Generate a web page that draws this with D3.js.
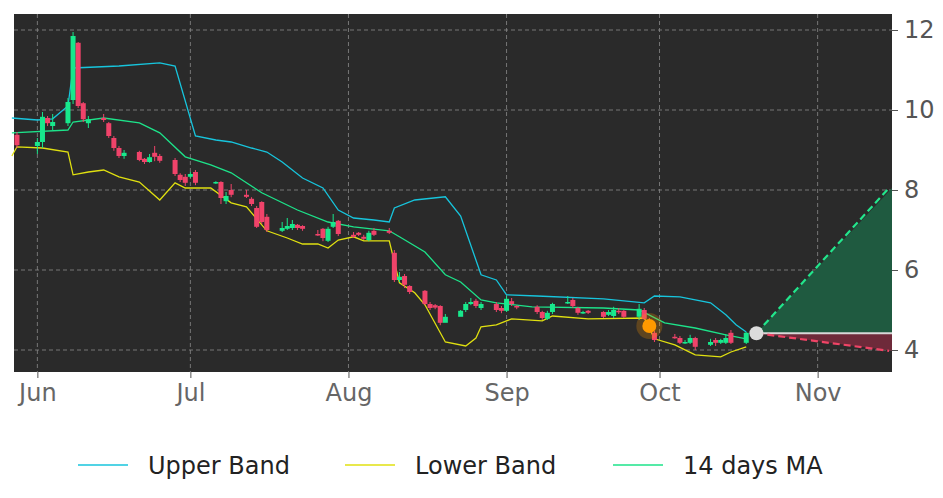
<!DOCTYPE html>
<html><head><meta charset="utf-8">
<script src="https://cdn.jsdelivr.net/npm/d3@7"></script>
<style>body{margin:0;background:#fff;font-family:"DejaVu Sans",sans-serif;}</style>
</head><body><svg id="c" width="943" height="498"></svg>
<script>
// candles: date, open, close, high, low
var days = ["05-28","06-01","06-02","06-03","06-04","06-07","06-08","06-09","06-10","06-11","06-14","06-15","06-16","06-17","06-18","06-21","06-22","06-23","06-24","06-25","06-28","06-29","06-30","07-01","07-02","07-06","07-07","07-08","07-09","07-12","07-13","07-14","07-15","07-16","07-19","07-20","07-21","07-22","07-23","07-26","07-27","07-28","07-29","07-30","08-02","08-03","08-04","08-05","08-06","08-09","08-10","08-11","08-12","08-13","08-16","08-17","08-18","08-19","08-20","08-23","08-24","08-25","08-26","08-27","08-30","08-31","09-01","09-02","09-03","09-07","09-08","09-09","09-10","09-13","09-14","09-15","09-16","09-17","09-20","09-21","09-22","09-23","09-24","09-27","09-28","09-29","09-30","10-04","10-05","10-06","10-07","10-08","10-11","10-12","10-13","10-14","10-15","10-18"];
var opens  = [9.38,9.1,9.2,9.8,9.6,9.67,10.25,11.68,10.17,9.67,9.8,9.67,9.3,9.05,8.85,8.95,8.78,8.7,8.93,8.85,8.75,8.38,8.33,8.33,8.45,8.18,8.2,7.72,8.0,7.88,7.78,7.55,7.7,7.33,6.98,7.03,7.05,7.13,7.1,6.9,7.03,6.73,7.08,7.23,6.88,6.93,6.83,6.75,6.98,6.98,6.43,5.75,5.85,5.6,5.48,5.15,5.12,5.1,4.68,4.83,5.0,5.15,5.23,5.05,5.15,5.05,4.98,5.22,5.1,5.08,4.95,4.78,4.95,5.18,5.25,5.05,4.93,4.98,4.95,4.88,4.85,4.98,4.98,4.83,5.0,4.75,4.43,4.33,4.3,4.18,4.18,4.3,4.13,4.25,4.18,4.18,4.43,4.18];
var closes = [9.12,9.2,9.83,9.67,9.7,10.2,11.85,10.1,9.77,9.77,9.75,9.35,9.05,8.85,8.93,8.75,8.7,8.82,8.83,8.73,8.4,8.25,8.18,8.4,8.18,8.2,7.8,7.85,7.88,7.83,7.65,7.08,7.2,7.0,7.05,7.1,7.15,7.05,7.03,6.88,6.8,7.03,7.2,6.9,6.83,6.88,6.78,6.93,6.88,6.93,5.75,5.83,5.63,5.45,5.15,5.05,5.06,4.68,4.83,4.98,5.15,5.2,5.1,5.15,5.0,4.98,5.28,5.15,5.07,4.95,4.8,4.93,5.15,5.2,5.1,4.93,4.95,4.93,4.83,4.95,5.0,4.95,4.83,5.03,4.78,4.6,4.25,4.3,4.18,4.2,4.3,4.08,4.2,4.18,4.25,4.3,4.18,4.43];
var highs  = [9.45,9.3,9.95,9.85,9.9,10.3,11.95,11.7,10.2,9.85,9.9,9.7,9.35,9.1,9.0,8.98,8.8,8.9,9.1,8.9,8.8,8.42,8.4,8.45,8.5,8.22,8.22,7.95,8.15,8.0,7.82,7.6,7.72,7.4,7.2,7.3,7.25,7.15,7.12,7.0,7.05,7.08,7.4,7.25,6.95,6.95,6.88,6.98,7.05,7.05,6.5,5.95,5.9,5.62,5.5,5.2,5.15,5.12,4.9,5.0,5.2,5.3,5.28,5.2,5.2,5.1,5.35,5.3,5.12,5.12,4.98,4.98,5.18,5.35,5.3,5.08,4.98,5.0,4.97,5.0,5.08,5.05,5.0,5.15,5.05,4.8,4.48,4.4,4.35,4.25,4.38,4.33,4.28,4.3,4.28,4.4,4.5,4.45];
var lows   = [9.05,8.9,9.05,9.6,9.5,9.6,10.15,10.05,9.7,9.55,9.7,9.3,8.98,8.8,8.78,8.72,8.65,8.68,8.72,8.68,8.35,8.2,8.1,8.3,8.12,8.15,7.65,7.65,7.82,7.8,7.6,7.05,7.15,6.95,6.95,7.0,7.0,7.0,6.98,6.85,6.72,6.7,7.05,6.85,6.8,6.85,6.75,6.72,6.85,6.9,5.7,5.7,5.55,5.4,5.12,5.0,5.02,4.62,4.7,4.9,4.95,5.12,5.05,5.0,4.95,4.92,4.95,5.1,5.02,4.9,4.75,4.75,4.9,5.15,5.05,4.88,4.9,4.9,4.8,4.85,4.8,4.9,4.8,4.75,4.75,4.55,4.2,4.28,4.15,4.15,4.15,4.0,4.1,4.1,4.15,4.15,4.15,4.15];

var upperDates = ["05-27","06-01","06-04","06-07","06-08","06-17","06-25","06-28","07-02","07-06","07-09","07-13","07-16","07-19","07-23","07-27","07-30","08-02","08-06","08-09","08-10","08-14","08-20","08-23","08-27","08-30","09-01","09-07","09-20","09-28","09-30","10-05","10-11","10-14","10-16","10-18"];
var upperVals  = [9.8,9.75,9.78,10.1,11.05,11.1,11.18,11.1,9.35,9.25,9.2,9.05,8.95,8.7,8.3,8.05,7.5,7.3,7.25,7.2,7.55,7.75,7.83,7.35,5.88,5.75,5.38,5.35,5.28,5.18,5.35,5.33,5.18,4.88,4.63,4.45];
var maDates = ["05-27","06-07","06-08","06-14","06-21","06-25","06-30","07-05","07-09","07-15","07-22","07-28","08-02","08-09","08-11","08-16","08-20","08-23","08-27","08-30","09-06","09-20","09-27","10-02","10-08","10-14","10-18"];
var maVals  = [9.43,9.5,9.7,9.8,9.68,9.43,8.83,8.63,8.43,7.93,7.5,7.2,7.08,6.98,6.83,6.45,5.88,5.7,5.25,5.18,5.08,5.05,5.0,4.68,4.55,4.38,4.28];
var lowerDates = ["05-27","05-28","06-02","06-07","06-08","06-11","06-14","06-17","06-21","06-25","06-28","06-30","07-05","07-09","07-12","07-16","07-20","07-23","07-26","07-28","07-30","08-02","08-04","08-09","08-11","08-14","08-16","08-20","08-24","08-26","08-27","08-30","09-02","09-08","09-10","09-17","09-28","09-30","10-04","10-08","10-13","10-15","10-18"];
var lowerVals  = [8.85,9.08,9.05,8.95,8.38,8.45,8.5,8.33,8.2,7.75,8.18,8.05,8.05,7.68,7.58,6.98,6.8,6.65,6.65,6.55,6.75,6.83,6.73,6.73,5.68,5.43,5.13,4.2,4.1,4.3,4.58,4.63,4.78,4.73,4.85,4.78,4.8,4.28,4.13,3.88,3.83,3.95,4.08];

var projStart = "10-20", projEnd = "11-15";
var projMid = 4.42, projHigh = 8.05, projLow = 3.98;
var signalDay = "09-29", signalVal = 4.6;
var yTicks = [4, 6, 8, 10, 12];
var monthTicks = ["06-01","07-01","08-01","09-01","10-01","11-01"];
var monthLabels = ["Jun","Jul","Aug","Sep","Oct","Nov"];

var pd = function(s){ return new Date("2021-" + s + "T00:00:00"); };
var svg = d3.select("#c");
var L = 14, R = 892, T = 14, B = 372;

var x = d3.scaleTime().domain([new Date("2021-05-27T10:00:00"), new Date("2021-11-15T14:00:00")]).range([L, R]);
var y = d3.scaleLinear().domain([3.45, 12.4]).range([B, T]);

svg.append("rect").attr("x", L).attr("y", T).attr("width", R - L).attr("height", B - T).attr("fill", "#2a2a2a");
var g = svg.append("g");

// grid
g.selectAll(".gx").data(monthTicks).enter().append("line")
  .attr("x1", function(d){ return x(pd(d)); }).attr("x2", function(d){ return x(pd(d)); })
  .attr("y1", T).attr("y2", B).attr("stroke", "#8a8a8a").attr("stroke-dasharray", "4,3").attr("stroke-width", 0.8);
g.selectAll(".gy").data(yTicks).enter().append("line")
  .attr("x1", L).attr("x2", R).attr("y1", y).attr("y2", y)
  .attr("stroke", "#8a8a8a").attr("stroke-dasharray", "4,3").attr("stroke-width", 0.8);

// projection
var x0 = x(pd(projStart)), x1 = R;
g.append("path").attr("d", d3.line()([[x0, y(projMid)], [x1, y(projHigh)], [x1, y(projMid)]])).attr("fill", "#1f5a40");
g.append("path").attr("d", d3.line()([[x0, y(projMid)], [x1, y(projLow)], [x1, y(projMid)]])).attr("fill", "#6e2a3a");
g.append("line").attr("x1", x0).attr("x2", x1).attr("y1", y(projMid)).attr("y2", y(projMid)).attr("stroke", "#d8d8d8").attr("stroke-width", 2);
g.append("line").attr("x1", x0).attr("x2", x(pd(projEnd))).attr("y1", y(projMid)).attr("y2", y(projHigh)).attr("stroke", "#22e68c").attr("stroke-width", 2.2).attr("stroke-dasharray", "7,4");
g.append("line").attr("x1", x0).attr("x2", x(pd(projEnd))).attr("y1", y(projMid)).attr("y2", y(projLow)).attr("stroke", "#f04466").attr("stroke-width", 2.2).attr("stroke-dasharray", "7,4");

// bands
function band(dates, vals, color) {
  var pts = dates.map(function(d, i){ return [x(pd(d)), y(vals[i])]; });
  g.append("path").attr("d", d3.line()(pts)).attr("fill", "none").attr("stroke", color).attr("stroke-width", 1.3);
}
band(upperDates, upperVals, "#17c5dd");
band(lowerDates, lowerVals, "#e0e010");
band(maDates, maVals, "#1de38a");

// candles
var up = "#18e88c", dn = "#f0436a";
var cg = g.selectAll(".cd").data(days).enter().append("g");
cg.append("line")
  .attr("x1", function(d){ return x(pd(d)); }).attr("x2", function(d){ return x(pd(d)); })
  .attr("y1", function(d, i){ return y(highs[i]); }).attr("y2", function(d, i){ return y(lows[i]); })
  .attr("stroke", function(d, i){ return closes[i] >= opens[i] ? up : dn; }).attr("stroke-width", 1);
cg.append("rect")
  .attr("x", function(d){ return x(pd(d)) - 2.5; }).attr("width", 5)
  .attr("y", function(d, i){ return y(Math.max(opens[i], closes[i])); })
  .attr("height", function(d, i){ return Math.max(1.5, Math.abs(y(opens[i]) - y(closes[i]))); })
  .attr("fill", function(d, i){ return closes[i] >= opens[i] ? up : dn; });

// markers
g.append("circle").attr("cx", x(pd(signalDay))).attr("cy", y(signalVal)).attr("r", 13).attr("fill", "#ff9900").attr("opacity", 0.25);
g.append("circle").attr("cx", x(pd(signalDay))).attr("cy", y(signalVal)).attr("r", 7).attr("fill", "#ff9900");
g.append("circle").attr("cx", x0).attr("cy", y(projMid)).attr("r", 7).attr("fill", "#dcdcdc");

// axes
var ya = svg.append("g").attr("transform", "translate(" + R + ",0)")
  .call(d3.axisRight(y).tickValues(yTicks).tickSize(6).tickPadding(6));
ya.selectAll("text").attr("font-size", 24).attr("fill", "#555").attr("font-family", "DejaVu Sans");
ya.selectAll("line").attr("stroke", "#555");
ya.select(".domain").remove();

var xa = svg.append("g").attr("transform", "translate(0," + B + ")")
  .call(d3.axisBottom(x).tickValues(monthTicks.map(pd)).tickFormat(function(d, i){ return monthLabels[i]; }).tickSize(6).tickPadding(6));
xa.selectAll("text").attr("font-size", 24).attr("fill", "#666").attr("font-family", "DejaVu Sans");
xa.selectAll("line").attr("stroke", "#555");
xa.select(".domain").remove();

// legend
var legend = [["Upper Band", "#17c5dd", 78], ["Lower Band", "#e0e010", 345], ["14 days MA", "#1de38a", 613]];
legend.forEach(function(l){
  svg.append("line").attr("x1", l[2]).attr("x2", l[2] + 50).attr("y1", 465).attr("y2", 465).attr("stroke", l[1]).attr("stroke-width", 1.3);
  svg.append("text").attr("x", l[2] + 70).attr("y", 474).attr("font-size", 24).attr("fill", "#222").text(l[0]);
});
</script></body></html>
